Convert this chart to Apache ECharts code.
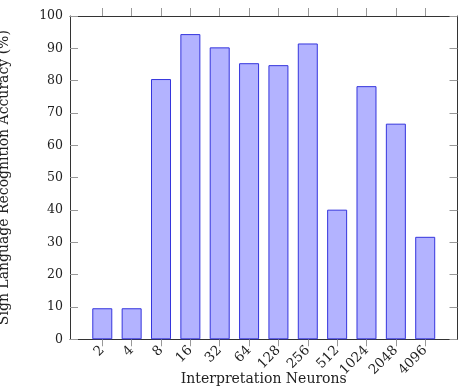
<!DOCTYPE html>
<html>
<head>
<meta charset="utf-8">
<script src="https://cdn.jsdelivr.net/npm/echarts@6/dist/echarts.min.js"></script>
<style>
  html, body { margin: 0; padding: 0; background: #fff; }
  #chart { width: 463px; height: 392px; }
</style>
</head>
<body>
<div id="chart"></div>
<script>
// interpretation neurons (categories) and accuracy (%)
const neurons = ["2", "4", "8", "16", "32", "64", "128", "256", "512", "1024", "2048", "4096"];
const accuracy = [9.6, 9.6, 80.5, 94.4, 90.3, 85.4, 84.8, 91.5, 40.1, 78.3, 66.7, 31.7];
const yTicks = [0, 10, 20, 30, 40, 50, 60, 70, 80, 90, 100];

// bars sit at 0..11 on a value axis, padded like pgfplots' enlarged x limits
const positions = neurons.map((n, i) => i);
const xMin = -1.1;
const xMax = 12.1;
const font = "DejaVu Serif";

const chart = echarts.init(document.getElementById("chart"));

const frameLine = { show: true, onZero: false, lineStyle: { color: "#333", width: 1 } };
const tickStyle = { color: "#999", width: 1 };

chart.setOption({
  animation: false,
  grid: {
    left: 70,
    right: 5.5,
    top: 16,
    bottom: 52.7,
    outerBoundsMode: "none",
  },
  xAxis: [
    {
      type: "value",
      min: xMin,
      max: xMax,
      position: "bottom",
      splitLine: { show: false },
      axisLine: frameLine,
      axisTick: {
        show: true,
        length: 7,
        customValues: positions,
        lineStyle: tickStyle,
      },
      axisLabel: {
        customValues: positions,
        rotate: 45,
        margin: 9,
        fontFamily: font,
        fontSize: 13.5,
        color: "#222",
        formatter: (v) => neurons[Math.round(v)],
      },
      name: "Interpretation Neurons",
      nameLocation: "middle",
      nameGap: 33,
      nameMoveOverlap: false,
      nameTextStyle: { fontFamily: font, fontSize: 14, color: "#222" },
    },
    {
      type: "value",
      min: xMin,
      max: xMax,
      position: "top",
      splitLine: { show: false },
      axisLine: frameLine,
      axisTick: {
        show: true,
        length: 8,
        customValues: positions,
        lineStyle: tickStyle,
      },
      axisLabel: { show: false },
    },
  ],
  yAxis: [
    {
      type: "value",
      min: 0,
      max: 100,
      interval: 10,
      position: "left",
      splitLine: { show: false },
      axisLine: frameLine,
      axisTick: { show: true, inside: true, length: 8, lineStyle: tickStyle },
      axisLabel: {
        margin: 7,
        fontFamily: font,
        fontSize: 12.5,
        color: "#222",
        formatter: (v) => (yTicks.includes(v) ? String(v) : ""),
      },
      name: "Sign Language Recognition Accuracy (%)",
      nameLocation: "middle",
      nameGap: 59,
      nameMoveOverlap: false,
      nameTextStyle: { fontFamily: font, fontSize: 14, color: "#222" },
    },
    {
      type: "value",
      min: 0,
      max: 100,
      interval: 10,
      position: "right",
      splitLine: { show: false },
      axisLine: frameLine,
      axisTick: { show: true, inside: true, length: 8, lineStyle: tickStyle },
      axisLabel: { show: false },
    },
  ],
  series: [
    {
      type: "bar",
      xAxisIndex: 0,
      yAxisIndex: 0,
      barWidth: 20,
      data: positions.map((p, i) => [p, accuracy[i]]),
      itemStyle: {
        color: "#b3b3ff",
        borderColor: "#3535dd",
        borderWidth: 1,
      },
    },
  ],
});
</script>
</body>
</html>
